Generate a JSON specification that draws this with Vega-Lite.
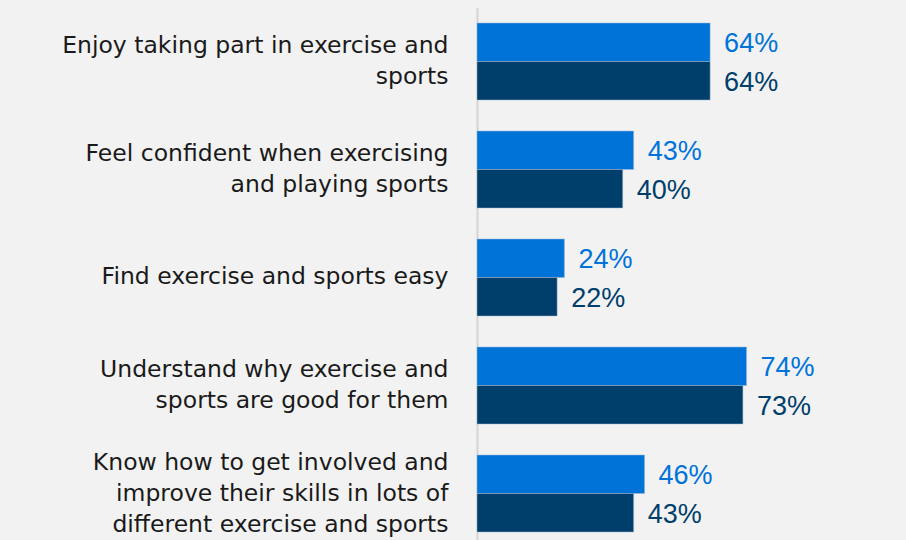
{
  "$schema": "https://vega.github.io/schema/vega-lite/v6.json",
  "autosize": "none",
  "width": 428,
  "height": 540,
  "padding": {"left": 477, "top": 7.5, "right": 1, "bottom": 0},
  "background": "#f2f2f2",
  "config": {"view": {"stroke": null}, "font": "DejaVu Sans"},
  "data": {
    "values": [
      {"statement": "Enjoy taking part in exercise and\nsports", "series": "A", "value": 0.64},
      {"statement": "Enjoy taking part in exercise and\nsports", "series": "B", "value": 0.64},
      {"statement": "Feel confident when exercising\nand playing sports", "series": "A", "value": 0.43},
      {"statement": "Feel confident when exercising\nand playing sports", "series": "B", "value": 0.40},
      {"statement": "Find exercise and sports easy", "series": "A", "value": 0.24},
      {"statement": "Find exercise and sports easy", "series": "B", "value": 0.22},
      {"statement": "Understand why exercise and\nsports are good for them", "series": "A", "value": 0.74},
      {"statement": "Understand why exercise and\nsports are good for them", "series": "B", "value": 0.73},
      {"statement": "Know how to get involved and\nimprove their skills in lots of\ndifferent exercise and sports", "series": "A", "value": 0.46},
      {"statement": "Know how to get involved and\nimprove their skills in lots of\ndifferent exercise and sports", "series": "B", "value": 0.43}
    ]
  },
  "encoding": {
    "y": {
      "field": "statement", "type": "nominal", "sort": null,
      "scale": {"paddingInner": 0.287, "paddingOuter": 0.1435},
      "axis": {
        "title": null, "ticks": false, "grid": false,
        "domainColor": "#d4d4d4", "domainWidth": 2,
        "labelExpr": "split(datum.label, '\\n')",
        "labelFontSize": 23.5, "labelColor": "#1a1a1a", "labelPadding": 29,
        "labelLineHeight": 31, "labelLimit": 470, "labelAlign": "right",
        "labelOffset": {
          "condition": [
            {"test": "length(split(datum.value, '\\n')) == 3", "value": -31},
            {"test": "length(split(datum.value, '\\n')) == 2", "value": -15.5}
          ],
          "value": -1
        }
      }
    },
    "yOffset": {"field": "series", "type": "nominal", "scale": {"paddingInner": 0, "paddingOuter": 0}},
    "x": {
      "field": "value", "type": "quantitative",
      "scale": {"domain": [0, 1.175]},
      "axis": null
    },
    "color": {
      "field": "series", "type": "nominal",
      "scale": {"domain": ["A", "B"], "range": ["#0073d9", "#003e6b"]},
      "legend": null
    }
  },
  "layer": [
    {"mark": {"type": "bar", "stroke": "#9fb9d3", "strokeWidth": 0.5}},
    {
      "mark": {"type": "text", "align": "left", "baseline": "middle", "dx": 14, "dy": 2, "fontSize": 27, "font": "Liberation Sans"},
      "encoding": {"text": {"field": "value", "format": ".0%"}}
    }
  ]
}
